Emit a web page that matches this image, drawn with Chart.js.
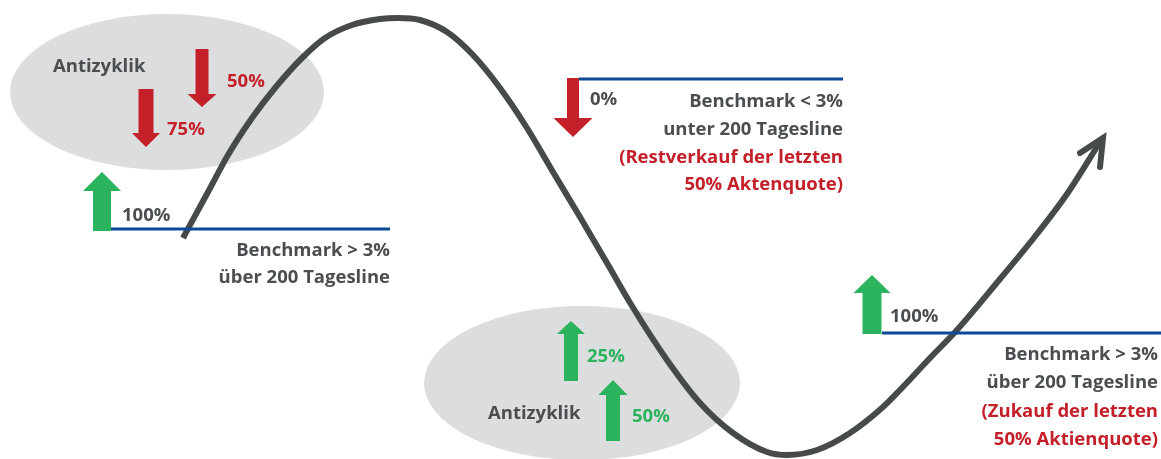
<!DOCTYPE html>
<html>
<head>
<meta charset="utf-8">
<script src="https://cdn.jsdelivr.net/npm/chart.js@4/dist/chart.umd.min.js"></script>
<style>
  html, body { margin: 0; padding: 0; background: #ffffff; }
  #wrap { width: 1161px; height: 459px; position: relative; }
</style>
</head>
<body>
<div id="wrap"><canvas id="cycleChart"></canvas></div>
<script>
// market cycle curve (x = time, y = level, top of picture = 0)
const curveX = [183, 208, 228, 252, 275, 302, 325, 352, 380, 398, 420, 447, 473, 500, 527, 553, 580, 607, 632, 667, 700, 733, 767, 787, 817, 850, 883, 900, 930, 957, 1000, 1033, 1067, 1100];
const curveY = [238, 192, 155, 118, 88, 58, 38, 25, 19, 18, 20, 32, 55, 88, 128, 172, 217, 263, 306, 360, 403, 433, 452, 455, 450, 433, 407, 390, 358, 330, 279, 239, 194, 142];
const headX = [1080, 1103, 1100];
const headY = [153, 138, 167];

// 200-day benchmark levels
const levelStart = [111, 579, 882];
const levelEnd = [390, 843, 1161];
const levelY = [229, 79, 333];

// quota arrows: tail -> tip
const arrowX = [146, 202, 102, 573, 571, 613, 872];
const arrowTail = [89, 49, 231, 78, 381, 441, 334];
const arrowTip = [147, 107, 172, 137, 321, 380, 275];
const arrowKind = ['sell', 'sell', 'buy', 'sell', 'buy', 'buy', 'buy'];

// "Antizyklik" zones
const zoneX = [167, 582];
const zoneY = [92, 383];
const zoneRx = [157, 158];
const zoneRy = [78, 77];

// labels
const labelText = [
  'Antizyklik', '50%', '75%', '100%', 'Benchmark > 3%', 'über 200 Tagesline',
  '0%', 'Benchmark < 3%', 'unter 200 Tagesline', '(Restverkauf der letzten', '50% Aktenquote)',
  'Antizyklik', '25%', '50%',
  '100%', 'Benchmark > 3%', 'über 200 Tagesline', '(Zukauf der letzten', '50% Aktienquote)'
];
const labelX = [53, 227, 167, 122, 390, 390, 590, 843, 843, 843, 843, 488, 587, 632, 890, 1158, 1158, 1158, 1158];
const labelY = [72, 87, 135, 221, 256, 283, 105, 107, 135, 163, 190, 419, 362, 422, 322, 360, 388, 417, 445];
const labelTone = ['grey', 'red', 'red', 'grey', 'grey', 'grey', 'grey', 'grey', 'grey', 'red', 'red', 'grey', 'green', 'green', 'grey', 'grey', 'grey', 'red', 'red'];

const colors = {
    grey: '#4b4e50',
    red: '#c4202a',
    green: '#2bb35e',
    blue: '#0d4a96',
    curve: '#464a4b',
    zone: '#dcdddf'
};
const arrowStyle = [
    { shaft: 15, head: 28, headLen: 14 },
    { shaft: 13, head: 29, headLen: 13 },
    { shaft: 18, head: 38, headLen: 19 },
    { shaft: 12, head: 39, headLen: 19 },
    { shaft: 14, head: 28, headLen: 13 },
    { shaft: 14, head: 29, headLen: 15 },
    { shaft: 19, head: 37, headLen: 18 }
];

const toPoints = (xs, ys) => xs.map((x, i) => ({ x, y: ys[i] }));

const zonePlugin = {
    id: 'zones',
    beforeDatasetsDraw(chart) {
        const { ctx, scales: { x, y } } = chart;
        ctx.save();
        ctx.fillStyle = colors.zone;
        zoneX.forEach((cx, i) => {
            const px = x.getPixelForValue(cx);
            const py = y.getPixelForValue(zoneY[i]);
            const rx = Math.abs(x.getPixelForValue(cx + zoneRx[i]) - px);
            const ry = Math.abs(y.getPixelForValue(zoneY[i] + zoneRy[i]) - py);
            ctx.beginPath();
            ctx.ellipse(px, py, rx, ry, 0, 0, Math.PI * 2);
            ctx.fill();
        });
        ctx.restore();
    }
};

const markPlugin = {
    id: 'marks',
    afterDatasetsDraw(chart) {
        const { ctx, scales: { x, y } } = chart;
        ctx.save();
        // block arrows
        arrowX.forEach((ax, i) => {
            const st = arrowStyle[i];
            const px = x.getPixelForValue(ax);
            const tail = y.getPixelForValue(arrowTail[i]);
            const tip = y.getPixelForValue(arrowTip[i]);
            const dir = tip > tail ? 1 : -1;
            const base = tip - dir * st.headLen;
            ctx.fillStyle = arrowKind[i] === 'sell' ? colors.red : colors.green;
            ctx.beginPath();
            ctx.moveTo(px - st.shaft / 2, tail);
            ctx.lineTo(px + st.shaft / 2, tail);
            ctx.lineTo(px + st.shaft / 2, base);
            ctx.lineTo(px + st.head / 2, base);
            ctx.lineTo(px, tip);
            ctx.lineTo(px - st.head / 2, base);
            ctx.lineTo(px - st.shaft / 2, base);
            ctx.closePath();
            ctx.fill();
        });
        // labels
        ctx.font = 'bold 18.5px "Open Sans"';
        ctx.textBaseline = 'alphabetic';
        labelText.forEach((t, i) => {
            const rightAligned = t.startsWith('Benchmark') || t.startsWith('über') || t.startsWith('unter') || t.startsWith('(') || t.endsWith('quote)');
            ctx.textAlign = rightAligned ? 'right' : 'left';
            ctx.fillStyle = colors[labelTone[i]];
            ctx.fillText(t, x.getPixelForValue(labelX[i]), y.getPixelForValue(labelY[i]));
        });
        ctx.restore();
    }
};

const datasets = [
    {
        data: toPoints(curveX, curveY),
        borderColor: colors.curve,
        borderWidth: 6,
        cubicInterpolationMode: 'monotone',
        borderCapStyle: 'butt',
        pointRadius: 0,
        clip: false,
        order: 3
    },
    {
        data: toPoints(headX, headY),
        borderColor: colors.curve,
        borderWidth: 6,
        tension: 0,
        borderCapStyle: 'round',
        borderJoinStyle: 'miter',
        pointRadius: 0,
        clip: false,
        order: 2
    }
];
levelStart.forEach((x0, i) => {
    datasets.push({
        data: [{ x: x0, y: levelY[i] }, { x: levelEnd[i], y: levelY[i] }],
        borderColor: colors.blue,
        borderWidth: 3,
        pointRadius: 0,
        clip: false,
        order: 1
    });
});

new Chart(document.getElementById('cycleChart'), {
    type: 'line',
    data: { datasets },
    options: {
        responsive: true,
        maintainAspectRatio: false,
        animation: false,
        layout: { padding: 0 },
        plugins: { legend: { display: false }, tooltip: { enabled: false } },
        scales: {
            x: { type: 'linear', min: 0, max: 1161, display: false },
            y: { type: 'linear', min: 0, max: 459, reverse: true, display: false }
        }
    },
    plugins: [zonePlugin, markPlugin]
});
</script>
</body>
</html>
